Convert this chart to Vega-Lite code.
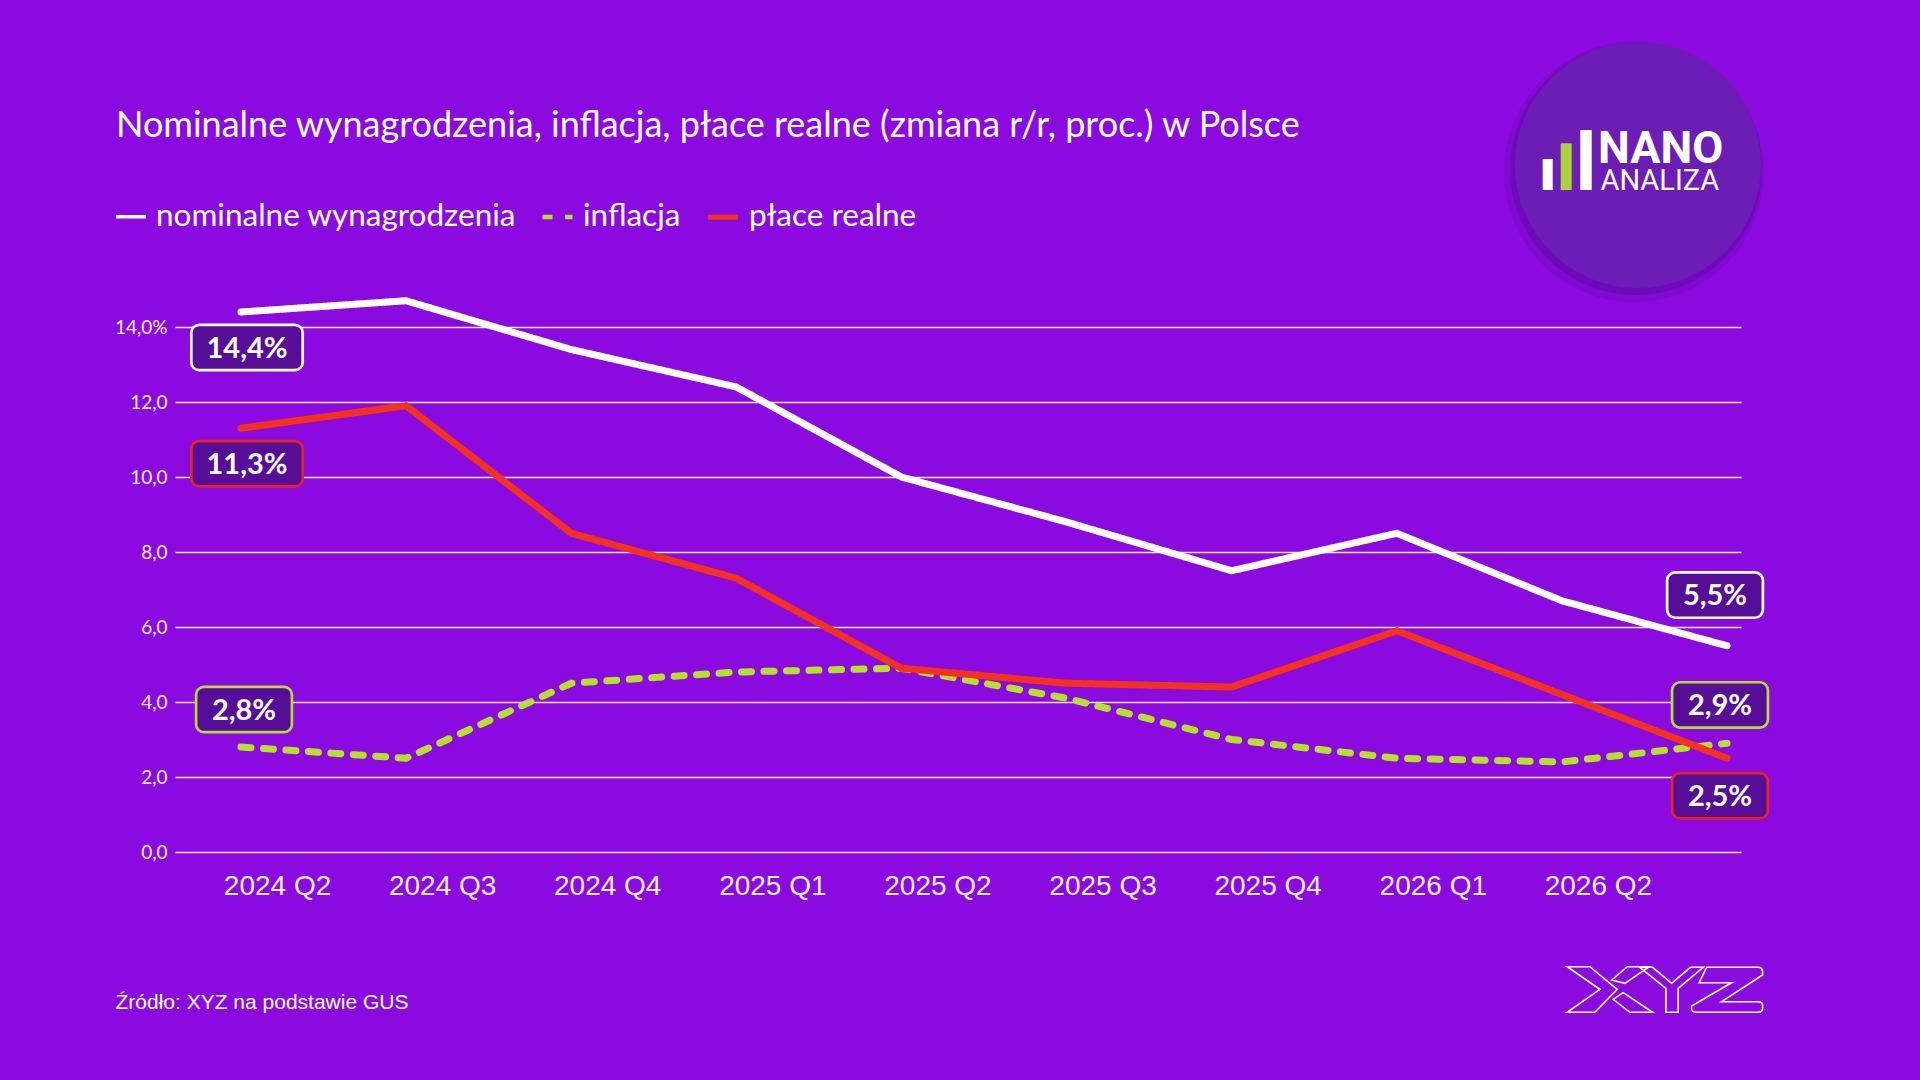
{
  "$schema": "https://vega.github.io/schema/vega-lite/v6.json",
  "width": 1566,
  "height": 525,
  "autosize": {"type": "none"},
  "padding": {"left": 175, "top": 327, "right": 179, "bottom": 228},
  "background": "#8b0adf",
  "config": {"view": {"stroke": null}, "font": "Lato"},
  "title": {
    "text": "Nominalne wynagrodzenia, inflacja, płace realne (zmiana r/r, proc.) w Polsce",
    "anchor": "start",
    "frame": "group",
    "dx": -59,
    "offset": -103,
    "font": "Lato",
    "fontSize": 36,
    "fontWeight": "normal",
    "color": "#ffffff"
  },
  "datasets": {
    "series": [
      {"q": "2024 Q2", "s": "inflacja", "v": 2.8},
      {"q": "2024 Q3", "s": "inflacja", "v": 2.5},
      {"q": "2024 Q4", "s": "inflacja", "v": 4.5},
      {"q": "2025 Q1", "s": "inflacja", "v": 4.8},
      {"q": "2025 Q2", "s": "inflacja", "v": 4.9},
      {"q": "2025 Q3", "s": "inflacja", "v": 4.1},
      {"q": "2025 Q4", "s": "inflacja", "v": 3.0},
      {"q": "2026 Q1", "s": "inflacja", "v": 2.5},
      {"q": "2026 Q2", "s": "inflacja", "v": 2.4},
      {"q": "2026 Q3", "s": "inflacja", "v": 2.9},
      {"q": "2024 Q2", "s": "nominalne wynagrodzenia", "v": 14.4},
      {"q": "2024 Q3", "s": "nominalne wynagrodzenia", "v": 14.7},
      {"q": "2024 Q4", "s": "nominalne wynagrodzenia", "v": 13.4},
      {"q": "2025 Q1", "s": "nominalne wynagrodzenia", "v": 12.4},
      {"q": "2025 Q2", "s": "nominalne wynagrodzenia", "v": 10.0},
      {"q": "2025 Q3", "s": "nominalne wynagrodzenia", "v": 8.8},
      {"q": "2025 Q4", "s": "nominalne wynagrodzenia", "v": 7.5},
      {"q": "2026 Q1", "s": "nominalne wynagrodzenia", "v": 8.5},
      {"q": "2026 Q2", "s": "nominalne wynagrodzenia", "v": 6.7},
      {"q": "2026 Q3", "s": "nominalne wynagrodzenia", "v": 5.5},
      {"q": "2024 Q2", "s": "płace realne", "v": 11.3},
      {"q": "2024 Q3", "s": "płace realne", "v": 11.9},
      {"q": "2024 Q4", "s": "płace realne", "v": 8.5},
      {"q": "2025 Q1", "s": "płace realne", "v": 7.3},
      {"q": "2025 Q2", "s": "płace realne", "v": 4.9},
      {"q": "2025 Q3", "s": "płace realne", "v": 4.5},
      {"q": "2025 Q4", "s": "płace realne", "v": 4.4},
      {"q": "2026 Q1", "s": "płace realne", "v": 5.9},
      {"q": "2026 Q2", "s": "płace realne", "v": 4.2},
      {"q": "2026 Q3", "s": "płace realne", "v": 2.5}
    ],
    "labels": [
      {"q": "2024 Q2", "s": "nominalne wynagrodzenia", "v": 14.4, "label": "14,4%"},
      {"q": "2024 Q2", "s": "płace realne", "v": 11.3, "label": "11,3%"},
      {"q": "2024 Q2", "s": "inflacja", "v": 2.8, "label": "2,8%"},
      {"q": "2026 Q3", "s": "nominalne wynagrodzenia", "v": 5.5, "label": "5,5%"},
      {"q": "2026 Q3", "s": "inflacja", "v": 2.9, "label": "2,9%"},
      {"q": "2026 Q3", "s": "płace realne", "v": 2.5, "label": "2,5%"}
    ],
    "brand": [
      {"name": "NANO", "sub": "ANALIZA", "mark": "XYZ"}
    ]
  },
  "layer": [
    {
      "data": {"name": "series"},
      "mark": {"type": "line", "strokeCap": "round", "strokeJoin": "miter", "strokeWidth": 7},
      "encoding": {
        "x": {
          "field": "q",
          "type": "ordinal",
          "scale": {
            "type": "point",
            "domain": ["2024 Q2", "2024 Q3", "2024 Q4", "2025 Q1", "2025 Q2", "2025 Q3", "2025 Q4", "2026 Q1", "2026 Q2", "2026 Q3"],
            "padding": 0.2423,
            "align": 0.825
          },
          "axis": {
            "values": ["2024 Q2", "2024 Q3", "2024 Q4", "2025 Q1", "2025 Q2", "2025 Q3", "2025 Q4", "2026 Q1", "2026 Q2"],
            "title": "Źródło: XYZ na podstawie GUS",
            "domain": false,
            "ticks": false,
            "grid": false,
            "labelAngle": 0,
            "labelOffset": 36,
            "labelOverlap": false,
            "labelBound": false,
            "labelFlush": false,
            "labelFont": "Liberation Sans",
            "labelFontSize": 28,
            "labelColor": "#f6f0ff",
            "labelPadding": 20,
            "titleFont": "Liberation Sans",
            "titleFontSize": 21,
            "titleFontWeight": "normal",
            "titleColor": "#ffffff",
            "titleX": -60,
            "titleY": 156,
            "titleAlign": "left",
            "titleAnchor": "start",
            "titleBaseline": "alphabetic"
          }
        },
        "y": {
          "field": "v",
          "type": "quantitative",
          "scale": {"domain": [0, 14], "nice": false, "zero": true},
          "axis": {
            "title": null,
            "values": [0, 2, 4, 6, 8, 10, 12, 14],
            "domain": false,
            "ticks": false,
            "grid": true,
            "gridColor": "#f1e8ff",
            "gridWidth": 1.5,
            "labelFont": "Lato",
            "labelFontSize": 19,
            "labelColor": "#f4ecff",
            "labelPadding": 8,
            "labelExpr": "replace(format(datum.value, '.1f'), '.', ',') + (datum.value == 14 ? '%' : '')"
          }
        },
        "color": {
          "field": "s",
          "type": "nominal",
          "scale": {
            "domain": ["nominalne wynagrodzenia", "inflacja", "płace realne"],
            "range": ["#ffffff", "#b5e02e", "#f2321e"]
          },
          "legend": {
            "orient": "none",
            "legendX": -61,
            "legendY": -128,
            "direction": "horizontal",
            "title": null,
            "symbolType": "stroke",
            "symbolSize": 900,
            "symbolStrokeWidth": 7,
            "labelFont": "Lato",
            "labelFontSize": 31.5,
            "labelColor": "#ffffff",
            "labelOffset": 8,
            "labelLimit": 600,
            "columnPadding": 16,
            "padding": 0
          }
        },
        "strokeDash": {
          "field": "s",
          "type": "nominal",
          "scale": {
            "domain": ["nominalne wynagrodzenia", "inflacja", "płace realne"],
            "range": [[1, 0], [10, 12.5], [1, 0]]
          },
          "legend": null
        },
        "strokeWidth": {
          "field": "s",
          "type": "ordinal",
          "scale": {
            "domain": ["nominalne wynagrodzenia", "inflacja", "płace realne"],
            "range": [3.6, 5.2]
          },
          "legend": null
        }
      }
    },
    {
      "data": {"name": "labels"},
      "transform": [{"filter": "datum.q == '2024 Q2' && datum.s != 'inflacja'"}],
      "layer": [
        {
          "mark": {"type": "point", "shape": "M -47.7 -22.7 L 47.7 -22.7 A 8 8 0 0 1 55.7 -14.7 L 55.7 14.7 A 8 8 0 0 1 47.7 22.7 L -47.7 22.7 A 8 8 0 0 1 -55.7 14.7 L -55.7 -14.7 A 8 8 0 0 1 -47.7 -22.7 Z", "size": 4, "filled": true, "fill": "#560e98", "strokeWidth": 2.7, "opacity": 1, "xOffset": 6, "yOffset": 35.5},
          "encoding": {
            "x": {"field": "q", "type": "ordinal"},
            "y": {"field": "v", "type": "quantitative"},
            "stroke": {"field": "s", "type": "nominal", "scale": {"domain": ["nominalne wynagrodzenia", "inflacja", "płace realne"], "range": ["#ffffff", "#b3dc35", "#e6251c"]}, "legend": null}
          }
        },
        {
          "mark": {"type": "text", "font": "Lato", "fontWeight": "bold", "fontSize": 29, "color": "#ffffff", "align": "center", "baseline": "middle", "xOffset": 6, "yOffset": 36.5},
          "encoding": {
            "x": {"field": "q", "type": "ordinal"},
            "y": {"field": "v", "type": "quantitative"},
            "text": {"field": "label"}
          }
        }
      ]
    },
    {
      "data": {"name": "labels"},
      "transform": [{"filter": "datum.q == '2024 Q2' && datum.s == 'inflacja'"}],
      "layer": [
        {
          "mark": {"type": "point", "shape": "M -39.9 -22.7 L 39.9 -22.7 A 8 8 0 0 1 47.9 -14.7 L 47.9 14.7 A 8 8 0 0 1 39.9 22.7 L -39.9 22.7 A 8 8 0 0 1 -47.9 14.7 L -47.9 -14.7 A 8 8 0 0 1 -39.9 -22.7 Z", "size": 4, "filled": true, "fill": "#560e98", "strokeWidth": 2.7, "opacity": 1, "xOffset": 3, "yOffset": -37.5},
          "encoding": {
            "x": {"field": "q", "type": "ordinal"},
            "y": {"field": "v", "type": "quantitative"},
            "stroke": {"field": "s", "type": "nominal", "scale": {"domain": ["nominalne wynagrodzenia", "inflacja", "płace realne"], "range": ["#ffffff", "#b3dc35", "#e6251c"]}, "legend": null}
          }
        },
        {
          "mark": {"type": "text", "font": "Lato", "fontWeight": "bold", "fontSize": 29, "color": "#ffffff", "align": "center", "baseline": "middle", "xOffset": 3, "yOffset": -36.5},
          "encoding": {
            "x": {"field": "q", "type": "ordinal"},
            "y": {"field": "v", "type": "quantitative"},
            "text": {"field": "label"}
          }
        }
      ]
    },
    {
      "data": {"name": "labels"},
      "transform": [{"filter": "datum.q == '2026 Q3' && datum.s == 'nominalne wynagrodzenia'"}],
      "layer": [
        {
          "mark": {"type": "point", "shape": "M -39.9 -22.7 L 39.9 -22.7 A 8 8 0 0 1 47.9 -14.7 L 47.9 14.7 A 8 8 0 0 1 39.9 22.7 L -39.9 22.7 A 8 8 0 0 1 -47.9 14.7 L -47.9 -14.7 A 8 8 0 0 1 -39.9 -22.7 Z", "size": 4, "filled": true, "fill": "#560e98", "strokeWidth": 2.7, "opacity": 1, "xOffset": -12, "yOffset": -50.7},
          "encoding": {
            "x": {"field": "q", "type": "ordinal"},
            "y": {"field": "v", "type": "quantitative"},
            "stroke": {"field": "s", "type": "nominal", "scale": {"domain": ["nominalne wynagrodzenia", "inflacja", "płace realne"], "range": ["#ffffff", "#b3dc35", "#e6251c"]}, "legend": null}
          }
        },
        {
          "mark": {"type": "text", "font": "Lato", "fontWeight": "bold", "fontSize": 29, "color": "#ffffff", "align": "center", "baseline": "middle", "xOffset": -12, "yOffset": -49.7},
          "encoding": {
            "x": {"field": "q", "type": "ordinal"},
            "y": {"field": "v", "type": "quantitative"},
            "text": {"field": "label"}
          }
        }
      ]
    },
    {
      "data": {"name": "labels"},
      "transform": [{"filter": "datum.q == '2026 Q3' && datum.s == 'inflacja'"}],
      "layer": [
        {
          "mark": {"type": "point", "shape": "M -39.9 -22.7 L 39.9 -22.7 A 8 8 0 0 1 47.9 -14.7 L 47.9 14.7 A 8 8 0 0 1 39.9 22.7 L -39.9 22.7 A 8 8 0 0 1 -47.9 14.7 L -47.9 -14.7 A 8 8 0 0 1 -39.9 -22.7 Z", "size": 4, "filled": true, "fill": "#560e98", "strokeWidth": 2.7, "opacity": 1, "xOffset": -7, "yOffset": -38.3},
          "encoding": {
            "x": {"field": "q", "type": "ordinal"},
            "y": {"field": "v", "type": "quantitative"},
            "stroke": {"field": "s", "type": "nominal", "scale": {"domain": ["nominalne wynagrodzenia", "inflacja", "płace realne"], "range": ["#ffffff", "#b3dc35", "#e6251c"]}, "legend": null}
          }
        },
        {
          "mark": {"type": "text", "font": "Lato", "fontWeight": "bold", "fontSize": 29, "color": "#ffffff", "align": "center", "baseline": "middle", "xOffset": -7, "yOffset": -37.3},
          "encoding": {
            "x": {"field": "q", "type": "ordinal"},
            "y": {"field": "v", "type": "quantitative"},
            "text": {"field": "label"}
          }
        }
      ]
    },
    {
      "data": {"name": "labels"},
      "transform": [{"filter": "datum.q == '2026 Q3' && datum.s == 'płace realne'"}],
      "layer": [
        {
          "mark": {"type": "point", "shape": "M -39.9 -22.7 L 39.9 -22.7 A 8 8 0 0 1 47.9 -14.7 L 47.9 14.7 A 8 8 0 0 1 39.9 22.7 L -39.9 22.7 A 8 8 0 0 1 -47.9 14.7 L -47.9 -14.7 A 8 8 0 0 1 -39.9 -22.7 Z", "size": 4, "filled": true, "fill": "#560e98", "strokeWidth": 2.7, "opacity": 1, "xOffset": -7, "yOffset": 37.5},
          "encoding": {
            "x": {"field": "q", "type": "ordinal"},
            "y": {"field": "v", "type": "quantitative"},
            "stroke": {"field": "s", "type": "nominal", "scale": {"domain": ["nominalne wynagrodzenia", "inflacja", "płace realne"], "range": ["#ffffff", "#b3dc35", "#e6251c"]}, "legend": null}
          }
        },
        {
          "mark": {"type": "text", "font": "Lato", "fontWeight": "bold", "fontSize": 29, "color": "#ffffff", "align": "center", "baseline": "middle", "xOffset": -7, "yOffset": 38.5},
          "encoding": {
            "x": {"field": "q", "type": "ordinal"},
            "y": {"field": "v", "type": "quantitative"},
            "text": {"field": "label"}
          }
        }
      ]
    },
    {
      "data": {"name": "brand"},
      "encoding": {
        "x": {"datum": "2026 Q3", "type": "ordinal"},
        "y": {"datum": 14, "type": "quantitative"}
      },
      "layer": [
        {"mark": {"type": "point", "shape": "circle", "filled": true, "size": 67600, "color": "#5a0aa3", "opacity": 0.25, "xOffset": -93, "yOffset": -155}},
        {"mark": {"type": "point", "shape": "circle", "filled": true, "size": 63504, "color": "#5a0aa3", "opacity": 0.45, "xOffset": -91, "yOffset": -158}},
        {"mark": {"type": "point", "shape": "circle", "filled": true, "size": 60516, "color": "#6b1db5", "opacity": 1, "xOffset": -89, "yOffset": -162}},
        {"mark": {"type": "point", "shape": "M -95.3 -6 L -85.3 -6 L -85.3 25 L -95.3 25 Z M -57.7 -35 L -46.3 -35 L -46.3 25 L -57.7 25 Z", "filled": true, "size": 4, "color": "#ffffff", "opacity": 1, "xOffset": -89, "yOffset": -162}},
        {"mark": {"type": "point", "shape": "M -77.3 -21.7 L -66.3 -21.7 L -66.3 25 L -77.3 25 Z", "filled": true, "size": 4, "color": "#a9d43a", "opacity": 1, "xOffset": -89, "yOffset": -162}},
        {"mark": {"type": "text", "font": "Roboto", "fontWeight": "bold", "fontSize": 45, "color": "#ffffff", "align": "left", "baseline": "alphabetic", "xOffset": -129, "yOffset": -163.7}, "encoding": {"text": {"field": "name"}}},
        {"mark": {"type": "text", "font": "Roboto", "fontWeight": "normal", "fontSize": 29, "color": "#ffffff", "align": "left", "baseline": "alphabetic", "xOffset": -126.5, "yOffset": -137}, "encoding": {"text": {"field": "sub"}}}
      ]
    },
    {
      "data": {"name": "brand"},
      "mark": {
        "type": "point",
        "shape": "M -97.7 -23.3 L -75 -23.3 L -47.7 -0.7 L -70 22.3 L -97.7 22.3 L -65 -0.7 Z M -53 -10 L -37.7 -23.3 L -15.7 -23.3 L -40 -6.7 Z M -51.7 9.3 L -41.7 2.7 L -12.3 22.3 L -35 22.3 Z M -25 -22.7 L -12.3 -22.7 L 6.7 -6.7 L 25.7 -22.7 L 38.3 -22.7 L 13.3 -1.7 L 13.3 22.3 L 1 22.3 L 1 -1.7 Z M 41.7 -22.7 L 93.3 -22.7 Q 97.7 -22.7 97.7 -18.3 L 97.7 -15 L 56.7 11.7 L 93.3 11.7 Q 97.7 11.7 97.7 16 L 97.7 18.3 Q 97.7 22.3 93.3 22.3 L 31.7 22.3 Q 26.7 22.3 26.7 18.3 L 26.7 16 L 66.7 -7.3 L 34.3 -7.3 Z",
        "filled": false,
        "size": 4,
        "stroke": "#ffffff",
        "strokeWidth": 1.6,
        "opacity": 1,
        "xOffset": 103,
        "yOffset": 138
      },
      "encoding": {
        "x": {"datum": "2026 Q2", "type": "ordinal"},
        "y": {"datum": 0, "type": "quantitative"}
      }
    }
  ]
}
